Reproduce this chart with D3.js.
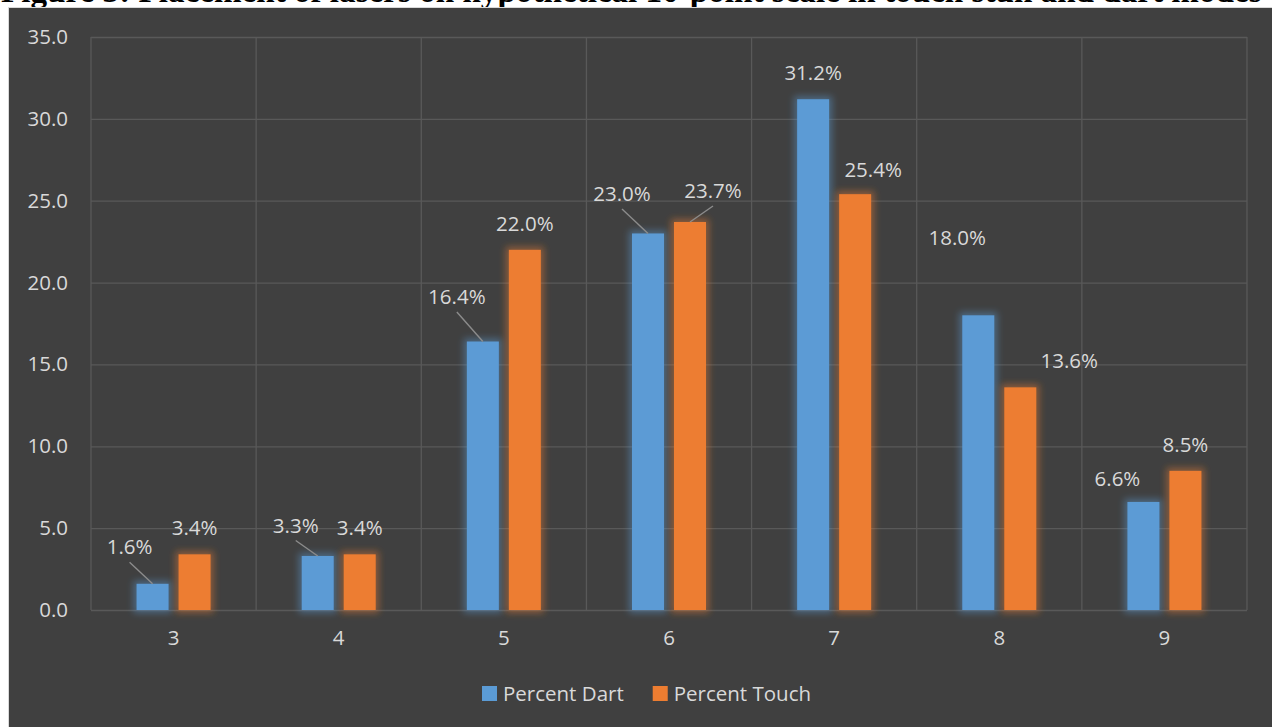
<!DOCTYPE html>
<html>
<head>
<meta charset="utf-8">
<script src="https://cdn.jsdelivr.net/npm/d3@7"></script>
<style>
  html, body { margin: 0; padding: 0; background: #ffffff; }
  svg { display: block; }
</style>
</head>
<body>
<svg id="chart" width="1272" height="727"></svg>
<script>
// Scale positions (categories) and the two series, in percent
const categories = ["3", "4", "5", "6", "7", "8", "9"];
const seriesNames = ["Percent Dart", "Percent Touch"];
const percentDart = [1.6, 3.3, 16.4, 23.0, 31.2, 18.0, 6.6];
const percentTouch = [3.4, 3.4, 22.0, 23.7, 25.4, 13.6, 8.5];
const yTicks = [0, 5, 10, 15, 20, 25, 30, 35];

// Manual label nudges (dx, dy in px) and which labels get a leader line
const dartLabelShift = [[-23, -10], [-22, -4], [-26, -18], [-26, -13], [0, 0], [-21, -51], [-26, 3.5]];
const touchLabelShift = [[0, 0], [0, 0], [0, 0], [23, -4.5], [18, 2.5], [49, 0], [0, 0]];
const dartLeader = [true, true, true, true, false, false, false];
const touchLeader = [false, false, false, true, false, false, false];

const colors = { "Percent Dart": "#5b9bd5", "Percent Touch": "#ed7d31" };
const textColor = "#d9d9d9";
const gridColor = "#595959";
const font = "'Open Sans', 'Noto Sans', sans-serif";
const fontSize = 20.5;

const svg = d3.select("#chart");

// Figure caption above the chart frame
const title = svg.append("text")
  .attr("x", 1).attr("y", 2)
  .attr("font-family", "'Liberation Serif', 'Times New Roman', serif")
  .attr("font-weight", "bold")
  .attr("font-size", 22)
  .attr("fill", "#000")
  .text("Figure 3: Placement of lasers on hypothetical 10-point scale in touch stun and dart modes");
const tw = title.node().getComputedTextLength();
title.attr("font-size", 22 * 1261 / tw);

// Chart frame
svg.append("rect")
  .attr("x", 8.5).attr("y", 7.5)
  .attr("width", 1300).attr("height", 800)
  .attr("fill", "#404040")
  .attr("stroke", "#d9d9d9")
  .attr("stroke-width", 1);

// Glow filters for the bars
const defs = svg.append("defs");
seriesNames.forEach((s, i) => {
  const f = defs.append("filter").attr("id", "glow" + i)
    .attr("x", "-60%").attr("y", "-60%").attr("width", "220%").attr("height", "220%");
  f.append("feMorphology").attr("in", "SourceGraphic").attr("operator", "dilate").attr("radius", 3).attr("result", "d");
  f.append("feGaussianBlur").attr("in", "d").attr("stdDeviation", 3.5).attr("result", "b");
  f.append("feComponentTransfer").attr("in", "b").attr("result", "bt")
    .append("feFuncA").attr("type", "linear").attr("slope", 0.45);
  const m = f.append("feMerge");
  m.append("feMergeNode").attr("in", "bt");
  m.append("feMergeNode").attr("in", "SourceGraphic");
});

const plot = { left: 91, right: 1247, top: 37, bottom: 610 };

const x = d3.scaleBand().domain(categories).range([plot.left, plot.right]).paddingInner(0).paddingOuter(0);
const bw = x.bandwidth();
const xInner = d3.scaleBand().domain(seriesNames)
  .range([bw / 2 - 37, bw / 2 + 37]).paddingInner(0.238).paddingOuter(0);
const y = d3.scaleLinear().domain([0, 35]).range([plot.bottom, plot.top]);

// Horizontal gridlines + y tick labels
const yAxis = svg.append("g")
  .attr("transform", `translate(${plot.left},0)`)
  .call(d3.axisLeft(y).tickValues(yTicks).tickFormat(d3.format(".1f"))
    .tickSize(-(plot.right - plot.left)).tickPadding(23));
yAxis.select(".domain").remove();
yAxis.selectAll(".tick line").attr("stroke", gridColor).attr("stroke-width", 1.3);
yAxis.selectAll(".tick text")
  .attr("fill", textColor).attr("font-family", font).attr("font-size", fontSize);

// Vertical gridlines at category boundaries
const bounds = categories.map(c => x(c)).concat([x(categories[categories.length - 1]) + bw]);
svg.append("g").selectAll("line").data(bounds).join("line")
  .attr("x1", d => d).attr("x2", d => d)
  .attr("y1", plot.top).attr("y2", plot.bottom)
  .attr("stroke", gridColor).attr("stroke-width", 1.3);

// X tick labels
const xAxis = svg.append("g")
  .attr("transform", `translate(0,${plot.bottom})`)
  .call(d3.axisBottom(x).tickSize(0).tickPadding(20));
xAxis.select(".domain").remove();
xAxis.selectAll(".tick text")
  .attr("fill", textColor).attr("font-family", font).attr("font-size", fontSize);

// Flattened bar records
const records = [];
categories.forEach((c, i) => {
  records.push({ cat: c, series: seriesNames[0], idx: 0, value: percentDart[i], shift: dartLabelShift[i], leader: dartLeader[i] });
  records.push({ cat: c, series: seriesNames[1], idx: 1, value: percentTouch[i], shift: touchLabelShift[i], leader: touchLeader[i] });
});

// Bars
svg.append("g").selectAll("rect").data(records).join("rect")
  .attr("x", d => x(d.cat) + xInner(d.series))
  .attr("y", d => y(d.value))
  .attr("width", xInner.bandwidth())
  .attr("height", d => y(0) - y(d.value))
  .attr("fill", d => colors[d.series])
  .attr("filter", d => `url(#glow${d.idx})`);

// Data label positions
const labelPos = d => {
  const cx = x(d.cat) + xInner(d.series) + xInner.bandwidth() / 2;
  return { bx: cx, by: y(d.value), lx: cx + d.shift[0], ly: y(d.value) - 26.5 + d.shift[1] };
};

// Leader lines
svg.append("g").selectAll("line").data(records.filter(d => d.leader)).join("line")
  .attr("x1", d => labelPos(d).lx).attr("y1", d => labelPos(d).ly + 15)
  .attr("x2", d => labelPos(d).bx).attr("y2", d => labelPos(d).by)
  .attr("stroke", "#8c8c8c").attr("stroke-width", 1.4);

// Value labels
svg.append("g").selectAll("text").data(records).join("text")
  .attr("x", d => labelPos(d).lx)
  .attr("y", d => labelPos(d).ly)
  .attr("dy", "0.35em")
  .attr("text-anchor", "middle")
  .attr("fill", textColor).attr("font-family", font).attr("font-size", fontSize)
  .text(d => d3.format(".1f")(d.value) + "%");

// Legend
const legend = svg.append("g").attr("transform", "translate(482,693.5)");
let lx = 0;
seriesNames.forEach(s => {
  const g = legend.append("g").attr("transform", `translate(${lx},0)`);
  g.append("rect").attr("x", 0).attr("y", -7.5).attr("width", 15).attr("height", 15).attr("fill", colors[s]);
  const t = g.append("text").attr("x", 21).attr("dy", "0.35em")
    .attr("fill", textColor).attr("font-family", font).attr("font-size", fontSize).text(s);
  lx += 21 + t.node().getComputedTextLength() + 29;
});
</script>
</body>
</html>
